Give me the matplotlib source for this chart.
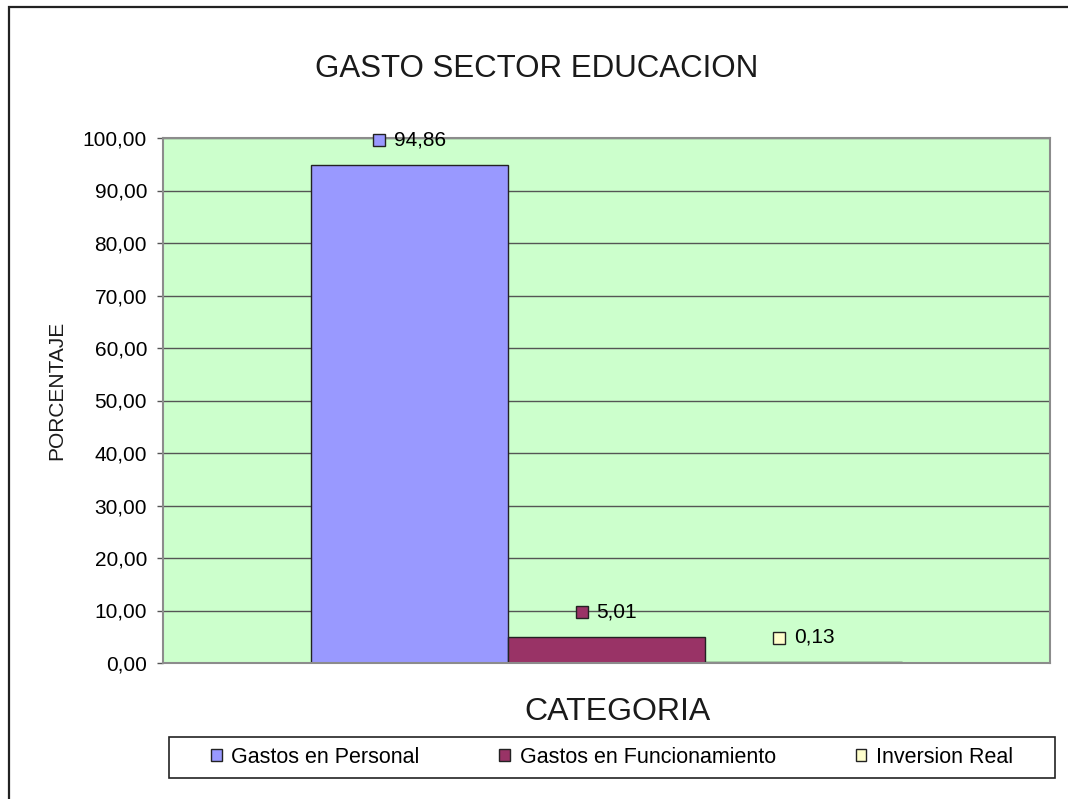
import matplotlib
matplotlib.use("Agg")
import matplotlib.pyplot as plt
from matplotlib.patches import Rectangle
from matplotlib.offsetbox import AnnotationBbox, HPacker, DrawingArea, TextArea
import numpy as np

plt.rcParams['font.family'] = ['Liberation Sans', 'DejaVu Sans']

# datos
series = ["Gastos en Personal", "Gastos en Funcionamiento", "Inversion Real"]
valores = [94.86, 5.01, 0.13]
colores = ["#9999FF", "#993366", "#FFFFCC"]
yticks = [0, 10, 20, 30, 40, 50, 60, 70, 80, 90, 100]

def coma(v):
    return ("%.2f" % v).replace(".", ",")

fig = plt.figure(figsize=(10.68, 7.99), dpi=100)
W, H = 1068.0, 799.0

# marco exterior
fig.patches.append(Rectangle((9 / W, -0.05), 1.2, 1 - 7 / H + 0.05,
                             transform=fig.transFigure, fill=False,
                             edgecolor="#222222", linewidth=1.6))

ax = fig.add_axes([163 / W, 136 / H, 887 / W, 525 / H])
ax.set_facecolor("#CCFFCC")

ancho = 1 / 4.5
xs = (np.arange(len(valores)) - 1) * ancho
barras = ax.bar(xs, valores, width=ancho, color=colores, edgecolor="#222222",
                linewidth=1.0, zorder=3)

ax.set_xlim(-0.5, 0.5)
ax.set_ylim(0, 100)
ax.set_yticks(yticks)
ax.set_yticklabels([coma(v) for v in yticks], fontsize=15)
ax.set_xticks([])
ax.yaxis.grid(True, color="#555555", linewidth=1.0, zorder=0)
ax.set_axisbelow(True)
ax.tick_params(axis="y", length=4.5, width=1, color="#555555", pad=7)
for s in ax.spines.values():
    s.set_color("#8c8c8c")
    s.set_linewidth(1.5)
ax.spines["bottom"].set_zorder(4)

# etiquetas de datos con marcador
for x, v, c in zip(xs, valores, colores):
    da = DrawingArea(9, 9, 0, 0)
    da.add_artist(Rectangle((0, 0), 8.5, 8.5, facecolor=c, edgecolor="#222222", linewidth=1))
    ta = TextArea(coma(v), textprops=dict(fontsize=15, color="black"))
    box = HPacker(children=[da, ta], align="center", pad=0, sep=6)
    ab = AnnotationBbox(box, (x, v), xybox=(0, 18), xycoords="data",
                        boxcoords="offset points", frameon=False, zorder=5)
    ax.add_artist(ab)

fig.text(537 / W, 1 - 69 / H, "GASTO SECTOR EDUCACION", fontsize=22.5,
         ha="center", va="center", color="#1a1a1a")
fig.text(617 / W, 1 - 712 / H, "CATEGORIA", fontsize=23,
         ha="center", va="center", color="#1a1a1a")
fig.text(57 / W, 1 - 390 / H, "PORCENTAJE", fontsize=15, rotation=90,
         ha="center", va="center", color="#1a1a1a")

# leyenda con marco fijo
fig.patches.append(Rectangle((169 / W, 21 / H), 886 / W, 41 / H,
                             transform=fig.transFigure, fill=False,
                             edgecolor="#222222", linewidth=1.2))
leg = fig.legend(barras, series, loc="center", ncol=3,
                 bbox_to_anchor=(169 / W, 21 / H, 886 / W, 41 / H),
                 fontsize=15.5, frameon=False,
                 handlelength=0.5, handleheight=0.5, handletextpad=0.45,
                 columnspacing=3.7, borderaxespad=0, borderpad=0.5)

fig.savefig("out.png", dpi=100)
